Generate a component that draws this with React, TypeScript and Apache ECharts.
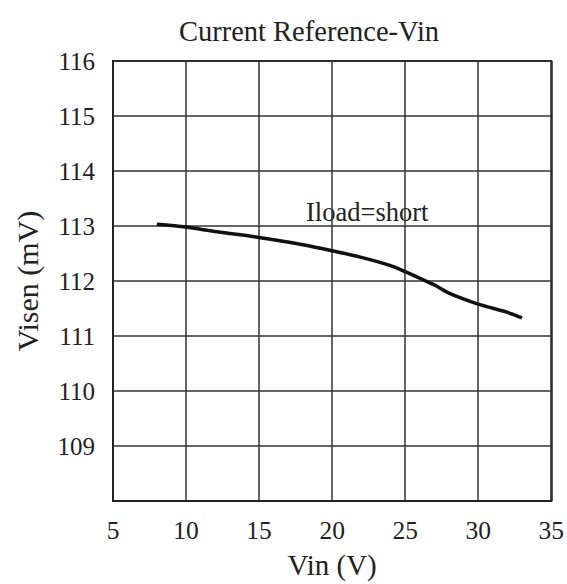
import React, { useEffect, useRef } from "react";
import * as echarts from "echarts";

const vin = [8, 10, 12, 14, 16, 18, 20, 22, 24, 25, 26, 27, 28, 30, 32, 33];
const visen = [113.03, 112.98, 112.9, 112.83, 112.75, 112.66, 112.55, 112.43, 112.28, 112.17, 112.05, 111.93, 111.78, 111.58, 111.43, 111.33];
const xTicks = [5, 10, 15, 20, 25, 30, 35];
const yTicks = [108, 109, 110, 111, 112, 113, 114, 115, 116];

const FONT = "'Liberation Serif', 'Times New Roman', serif";

export default function App() {
  const ref = useRef<HTMLDivElement>(null);
  useEffect(() => {
    document.body.style.margin = "0";
    if (!ref.current) return;
    const chart = echarts.init(ref.current, null, { renderer: "svg" });
    chart.setOption({
      animation: false,
      backgroundColor: "#fff",
      textStyle: { fontFamily: FONT },
      title: {
        text: "Current Reference-Vin",
        left: 304,
        top: 12,
        textAlign: "center",
        textStyle: { fontFamily: FONT, fontSize: 28.5, fontWeight: "normal", color: "#222" },
      },
      grid: { left: 113, top: 61, width: 439, height: 445, show: true, borderColor: "#222", borderWidth: 2, backgroundColor: "transparent" },
      xAxis: {
        type: "value",
        min: xTicks[0],
        max: xTicks[xTicks.length - 1],
        interval: 5,
        name: "Vin (V)",
        nameLocation: "middle",
        nameGap: 49,
        nameTextStyle: { fontFamily: FONT, fontSize: 29, color: "#222" },
        axisLine: { show: true, lineStyle: { color: "#222", width: 2 } },
        axisTick: { show: false },
        axisLabel: { fontFamily: FONT, fontSize: 25.5, color: "#222", margin: 16 },
        splitLine: { show: true, lineStyle: { color: "#333", width: 1.5 } },
      },
      yAxis: {
        type: "value",
        min: yTicks[0],
        max: yTicks[yTicks.length - 1],
        interval: 1,
        name: "Visen (mV)",
        nameLocation: "middle",
        nameGap: 71,
        nameTextStyle: { fontFamily: FONT, fontSize: 30, color: "#222" },
        axisLine: { show: true, lineStyle: { color: "#222", width: 2 } },
        axisTick: { show: false },
        axisLabel: {
          fontFamily: FONT,
          fontSize: 25,
          color: "#222",
          margin: 18,
          formatter: (v: number) => (v === yTicks[0] ? "" : String(v)),
        },
        splitLine: { show: true, lineStyle: { color: "#333", width: 1.5 } },
      },
      series: [
        {
          type: "line",
          data: vin.map((x, i) => [x, visen[i]]),
          smooth: 0.3,
          showSymbol: false,
          lineStyle: { color: "#111", width: 3.5 },
        },
      ],
      graphic: [
        {
          type: "text",
          left: 306,
          top: 198,
          style: { text: "Iload=short", fontFamily: FONT, fontSize: 26.5, fill: "#222" },
        },
      ],
    });
    return () => chart.dispose();
  }, []);
  return <div ref={ref} style={{ width: 567, height: 584 }} />;
}
